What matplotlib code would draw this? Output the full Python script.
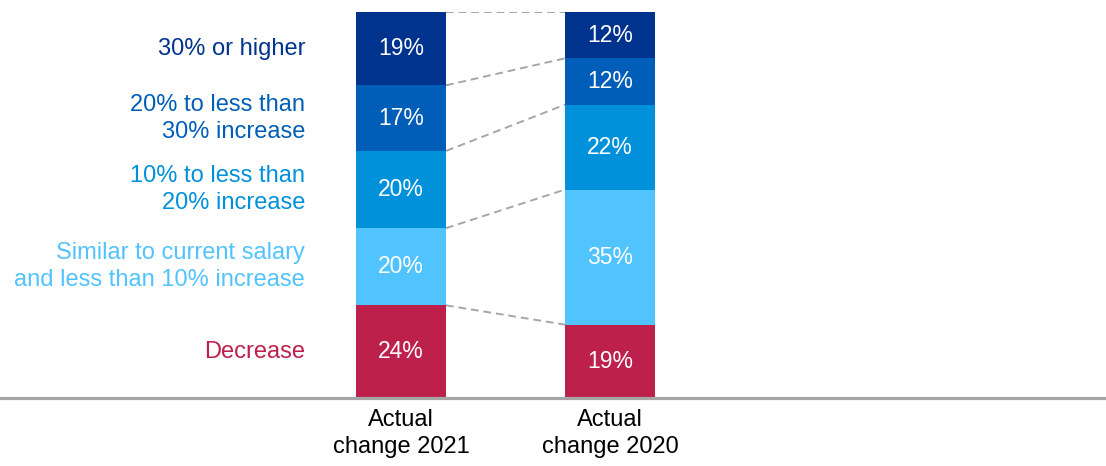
import matplotlib
matplotlib.use('Agg')
import matplotlib.pyplot as plt

plt.rcParams['font.family'] = ['Liberation Sans', 'DejaVu Sans']

# Data
bars = ['Actual\nchange 2021', 'Actual\nchange 2020']
categories = [
    'Decrease',
    'Similar to current salary\nand less than 10% increase',
    '10% to less than\n20% increase',
    '20% to less than\n30% increase',
    '30% or higher',
]
share_2021 = [24, 20, 20, 17, 19]
share_2020 = [19, 35, 22, 12, 12]
colors = ['#BC204B', '#51C3FF', '#0091DA', '#005EB8', '#00338D']

BAR_W = 0.43
FS = 17
DASH = dict(color='#A6A6A6', lw=1.4, ls=(0, (4, 2.5)), zorder=1)

fig = plt.figure(figsize=(11.06, 4.66), dpi=100)
ax = fig.add_axes([0, 68 / 466, 1, (398 - 12) / 466])
ax.set_xlim(-1.919, 3.373)
ax.set_ylim(0, 100)

xs = [0, 1]
series = [share_2021, share_2020]
bottoms = [0, 0]
for k, cat in enumerate(categories):
    vals = [s[k] for s in series]
    ax.bar(xs, vals, BAR_W, bottom=bottoms, color=colors[k], zorder=2)
    for i, (x, v) in enumerate(zip(xs, vals)):
        ax.text(x, bottoms[i] + v / 2, f'{v}%', ha='center', va='center',
                color='white', fontsize=16.5, zorder=3)
    # category label beside the first bar
    ax.text(-0.459, bottoms[0] + vals[0] / 2, cat, ha='right', va='center',
            color=colors[k], fontsize=FS, linespacing=1.3)
    # dashed connector from the top of the segment on the left
    # to the top of the same segment on the right
    if k > 0:
        ax.plot([BAR_W / 2, 1 - BAR_W / 2], bottoms, **DASH)
    bottoms = [b + v for b, v in zip(bottoms, vals)]
ax.plot([BAR_W / 2, 1 - BAR_W / 2], bottoms, **DASH)

for side in ('top', 'left', 'right'):
    ax.spines[side].set_visible(False)
ax.spines['bottom'].set_color('#A6A6A6')
ax.spines['bottom'].set_linewidth(2.3)
ax.spines['bottom'].set_zorder(4)
ax.set_yticks([])
ax.set_xticks(xs)
ax.set_xticklabels(bars, fontsize=FS, color='black', linespacing=1.3)
ax.tick_params(axis='x', length=0, pad=8)

fig.savefig('out.png', dpi=100)
